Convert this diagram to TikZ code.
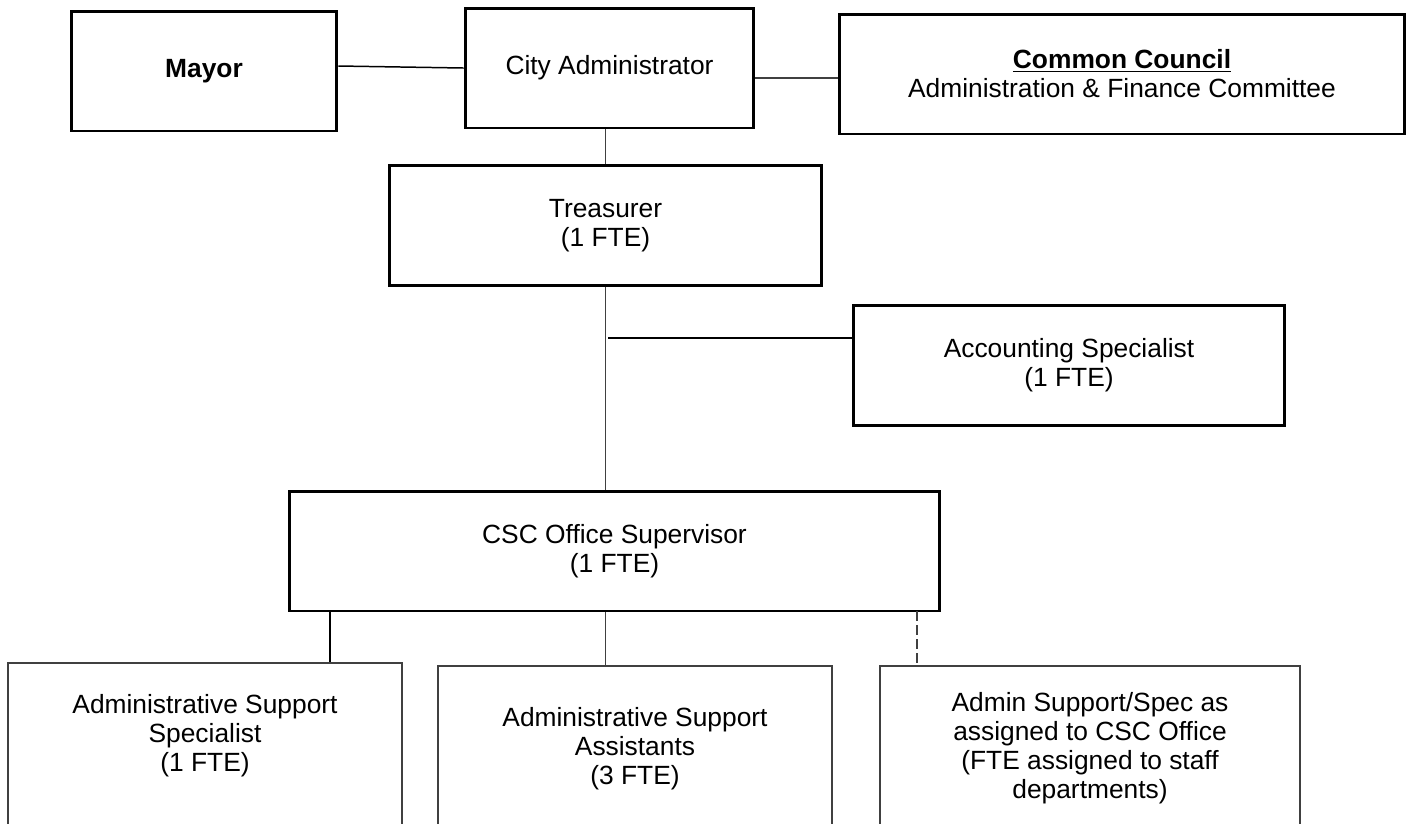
\documentclass[tikz,border=0pt]{standalone}
\usepackage{fontspec}
\setmainfont{Liberation Sans}
\usetikzlibrary{calc}

\begin{document}
\begin{tikzpicture}[x=0.02cm, y=-0.02cm]
      \tikzstyle{unit}=[draw, line width=1.7pt, minimum height=2.4cm, inner sep=0pt,
        align=center, font=\fontsize{15}{16.5}\selectfont];
      \tikzstyle{staff}=[draw=black!75, line width=1.1pt, minimum height=4cm, inner sep=0pt];
      \tikzstyle{lbl}=[align=center, inner sep=0pt, font=\fontsize{15}{16.5}\selectfont];
      \tikzstyle{link}=[draw=black!75, line width=0.85pt];
      \tikzstyle{heavylink}=[draw=black, line width=1.5pt];

      \useasboundingbox (0,0) rectangle (1409,823);

      % top row
      \node[unit, minimum width=5.32cm] (mayor) at (204,71) {\textbf{Mayor}};
      \node[unit, minimum width=5.78cm] (cityadm) at (609.5,68) {City Administrator};
      \node[unit, minimum width=11.3cm] (council) at (1122,74)
        {\textbf{\underline{Common Council}}\\Administration \& Finance Committee};

      % finance
      \node[unit, minimum width=8.66cm] (treasurer) at (605.5,225.5) {Treasurer\\(1 FTE)};
      \node[unit, minimum width=8.64cm] (acct) at (1069,365.5) {Accounting Specialist\\(1 FTE)};
      \node[unit, minimum width=13.02cm] (csc) at (614.5,551) {CSC Office Supervisor\\(1 FTE)};

      % staff, boxes run off the bottom
      \node[staff, minimum width=7.88cm] (ass) at (205,763) {};
      \node[staff, minimum width=7.88cm] (asa) at (635,766) {};
      \node[staff, minimum width=8.4cm] (assigned) at (1090,766) {};
      \node[lbl] (ass-t) at ($(ass.north)+(0,74)$)
        {Administrative Support\\Specialist\\(1 FTE)};
      \node[lbl] (asa-t) at ($(asa.north)+(0,84)$)
        {Administrative Support\\Assistants\\(3 FTE)};
      \node[lbl] (assigned-t) at ($(assigned.north)+(0,83)$)
        {Admin Support/Spec as\\assigned to CSC Office\\(FTE assigned to staff\\departments)};

      \coordinate (acctjoin) at (608,338);
      \coordinate (sdrop) at (330,611);
      \coordinate (adrop) at (917,611);

      \draw[link, draw=black] ($(mayor.east)+(0,-5)$) -- (cityadm.west);
      \draw[link] ($(council.west -| cityadm.east)+(0,4)$) -- ($(council.west)+(0,4)$);
      \draw[link] (cityadm.south -| treasurer.north) -- (treasurer.north);
      \draw[link] (treasurer.south) -- (treasurer.south |- csc.north);
      \draw[heavylink] (acctjoin) -- (acctjoin -| acct.west);
      \draw[heavylink] (sdrop) -- (sdrop |- ass.north);
      \draw[link] (csc.south -| treasurer.south) -- (treasurer.south |- asa.north);
      \draw[link, dash pattern=on 5.5pt off 2.5pt] (adrop) -- (adrop |- assigned.north);
\end{tikzpicture}
\end{document}
